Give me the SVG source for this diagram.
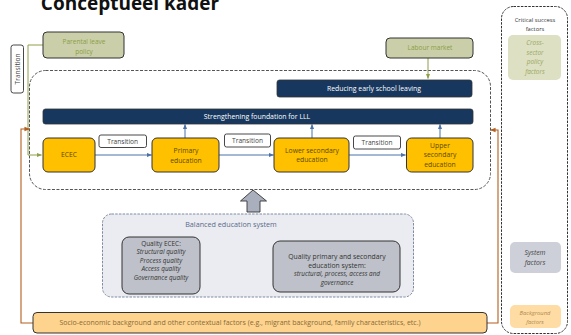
<svg xmlns="http://www.w3.org/2000/svg" width="571" height="335" viewBox="0 0 571 335">
<defs>
<style>
text{font-family:"Open Sans","Liberation Sans",sans-serif;text-anchor:middle;}
.t{font-size:6.4px;}
.it{font-style:italic;}
.yel{fill:#ffc000;stroke:#333;stroke-width:1;}
.yt{fill:#5c4a00;font-size:6.8px;}
.nav{fill:#17375e;stroke:#333;stroke-width:0.8;}
.nt{fill:#ffffff;font-size:6.9px;}
.tr{fill:#ffffff;stroke:#333;stroke-width:0.9;}
.trt{fill:#444;font-size:6.6px;}
.olv{fill:#cacea9;stroke:#333;stroke-width:1;}
.ot{fill:#8a9e45;font-size:6.5px;}
.blue{stroke:#4a72a8;stroke-width:1;fill:none;}
.olln{stroke:#8ea04a;stroke-width:1;fill:none;}
.brn{stroke:#b35f1e;stroke-width:1.1;fill:none;}
.q{fill:#bec1c9;stroke:#333;stroke-width:1;}
.qt{fill:#333;font-size:6.4px;}
</style>
<marker id="ab" viewBox="0 0 6 6" refX="5.5" refY="3" markerWidth="5" markerHeight="5" orient="auto"><path d="M0,0.5 L6,3 L0,5.5 z" fill="#4a72a8"/></marker>
<marker id="ao" viewBox="0 0 6 6" refX="5.5" refY="3" markerWidth="5" markerHeight="5" orient="auto"><path d="M0,0.5 L6,3 L0,5.5 z" fill="#8ea04a"/></marker>
<marker id="ar" viewBox="0 0 6 6" refX="5.5" refY="3" markerWidth="5" markerHeight="5" orient="auto"><path d="M0,0.5 L6,3 L0,5.5 z" fill="#b35f1e"/></marker>
<marker id="ak" viewBox="0 0 6 6" refX="5.5" refY="3" markerWidth="5" markerHeight="5" orient="auto-start-reverse"><path d="M0,0.5 L6,3 L0,5.5 z" fill="#111"/></marker>
</defs>
<rect width="571" height="335" fill="#ffffff"/>

<text x="130" y="10" style="font-size:19px;font-weight:bold;fill:#111;">Conceptueel kader</text>

<!-- outer dashed container -->
<rect id="scope" x="29.5" y="70.5" width="461" height="119" rx="16" fill="none" stroke="#555" stroke-width="1" stroke-dasharray="3,1.5"/>

<!-- right panel -->
<g id="csf">
<rect x="501.5" y="6.5" width="66" height="327" rx="12" fill="none" stroke="#333" stroke-width="1" stroke-dasharray="2.5,1.2"/>
<text class="t" x="535" y="22" style="fill:#333;font-size:5.8px;">Critical success</text>
<text class="t" x="535" y="31" style="fill:#333;font-size:5.8px;">factors</text>
</g>
<g id="cross-sector">
<rect x="508" y="35" width="53" height="45" rx="5" fill="#dde0c3"/>
<text class="t it" x="535" y="45" style="fill:#9aa760;">Cross-</text>
<text class="t it" x="535" y="54.5" style="fill:#9aa760;">sector</text>
<text class="t it" x="535" y="64" style="fill:#9aa760;">policy</text>
<text class="t it" x="535" y="73.5" style="fill:#9aa760;">factors</text>
</g>
<g id="system-factors">
<rect x="510" y="242" width="51" height="31" rx="5" fill="#cdd0d8"/>
<text class="t it" x="535" y="254.5" style="fill:#444;font-size:6.8px;">System</text>
<text class="t it" x="535" y="264.5" style="fill:#444;font-size:6.8px;">factors</text>
</g>
<g id="background-factors">
<rect x="510" y="305" width="51" height="23" rx="5" fill="#fedca3"/>
<text class="t it" x="535" y="315" style="fill:#b08a50;font-size:5.8px;">Background</text>
<text class="t it" x="535" y="324" style="fill:#b08a50;font-size:5.8px;">factors</text>
</g>

<!-- connectors -->
<g id="connectors">
<path class="olln" d="M43,45 H28 V155 H41.5" marker-end="url(#ao)"/>
<path class="olln" d="M428,58 V78.5" marker-end="url(#ao)"/>
<path class="brn" d="M33,323 H21 V129 H29.5" marker-end="url(#ar)"/>
<path class="brn" d="M487,323 H498 V130 H490.5" marker-end="url(#ar)"/>
<path class="blue" d="M95,155 H151.5" marker-end="url(#ab)"/>
<path class="blue" d="M219,155 H273.5" marker-end="url(#ab)"/>
<path class="blue" d="M349,155 H405.5" marker-end="url(#ab)"/>
<path class="blue" d="M185,138 V124.5" marker-end="url(#ab)"/>
<path class="blue" d="M312,138 V124.5" marker-end="url(#ab)"/>
<path class="blue" d="M440,138 V124.5" marker-end="url(#ab)"/>
<path d="M201.5,262 H272" stroke="#111" stroke-width="1" fill="none" marker-start="url(#ak)" marker-end="url(#ak)"/>
<path d="M253,190 L266.5,201 L260,201 L260,212 L247,212 L247,201 L240.5,201 Z" fill="#a9afbd" stroke="#333" stroke-width="0.9"/>
</g>

<g id="parental-leave">
<rect class="olv" x="43" y="32" width="81" height="26" rx="4"/>
<text class="ot" x="84" y="44">Parental leave</text>
<text class="ot" x="84" y="54">policy</text>
</g>
<g id="transition-v">
<rect class="tr" x="11" y="45" width="12.5" height="48" rx="2.5"/>
<text class="trt" transform="translate(19.5,69) rotate(-90)">Transition</text>
</g>
<g id="labour-market">
<rect class="olv" x="386" y="38" width="87" height="20" rx="4"/>
<text class="ot" x="430" y="50.3">Labour market</text>
</g>
<g id="reducing-esl">
<rect class="nav" x="277" y="80" width="195" height="17" rx="2.5"/>
<text class="nt" x="374" y="90.9">Reducing early school leaving</text>
</g>
<g id="lll">
<rect class="nav" x="43" y="109" width="430" height="15" rx="2.5"/>
<text class="nt" x="257" y="119">Strengthening foundation for LLL</text>
</g>
<g id="ecec">
<rect class="yel" x="43" y="138" width="52" height="34" rx="5"/>
<text class="yt" x="69" y="157.3">ECEC</text>
</g>
<g id="primary">
<rect class="yel" x="152" y="138" width="67" height="34" rx="5"/>
<text class="yt" x="186" y="153">Primary</text>
<text class="yt" x="186" y="163">education</text>
</g>
<g id="lower-secondary">
<rect class="yel" x="274" y="138" width="75" height="34" rx="5"/>
<text class="yt" x="312" y="153">Lower secondary</text>
<text class="yt" x="312" y="162">education</text>
</g>
<g id="upper-secondary">
<rect class="yel" x="406.5" y="138" width="66.5" height="34" rx="5"/>
<text class="yt" x="440" y="147.5">Upper</text>
<text class="yt" x="440" y="157">secondary</text>
<text class="yt" x="440" y="166.5">education</text>
</g>
<g id="transition-1">
<rect class="tr" x="99" y="135" width="47.5" height="12.5" rx="2"/>
<text class="trt" x="122.7" y="143.7">Transition</text>
</g>
<g id="transition-2">
<rect class="tr" x="224.5" y="134" width="46" height="13" rx="2"/>
<text class="trt" x="247.5" y="142.9">Transition</text>
</g>
<g id="transition-3">
<rect class="tr" x="353.5" y="136" width="47" height="13" rx="2"/>
<text class="trt" x="377" y="144.9">Transition</text>
</g>

<g id="balanced-system">
<rect x="102.5" y="214" width="311" height="83" rx="9" fill="#eaecf1" stroke="#7f8aa3" stroke-width="1" stroke-dasharray="2.5,1.2"/>
<text x="231" y="226.5" style="font-size:7.2px;fill:#5b6a8a;">Balanced education system</text>
</g>
<g id="quality-ecec">
<rect class="q" x="122" y="237" width="78" height="57" rx="7"/>
<text class="qt" x="161" y="245.5">Quality ECEC:</text>
<text class="qt it" x="161" y="254">Structural quality</text>
<text class="qt it" x="161" y="262.5">Process quality</text>
<text class="qt it" x="161" y="271">Access quality</text>
<text class="qt it" x="161" y="279.5">Governance quality</text>
</g>
<g id="quality-primary-secondary">
<rect class="q" x="273" y="241" width="127" height="51" rx="7"/>
<text class="qt" x="337" y="259" style="font-size:6.8px;">Quality primary and secondary</text>
<text class="qt" x="337" y="267.5" style="font-size:6.8px;">education system:</text>
<text class="qt it" x="337" y="276">structural, process, access and</text>
<text class="qt it" x="337" y="284.5">governance</text>
</g>
<g id="socio-economic">
<rect x="33" y="312.5" width="454" height="20.5" rx="4" fill="#fdd38e" stroke="#333" stroke-width="1"/>
<text x="240" y="325.4" style="font-size:7px;fill:#8a6a3a;">Socio-economic background and other contextual factors (e.g., migrant background, family characteristics, etc.)</text>
</g>
</svg>
